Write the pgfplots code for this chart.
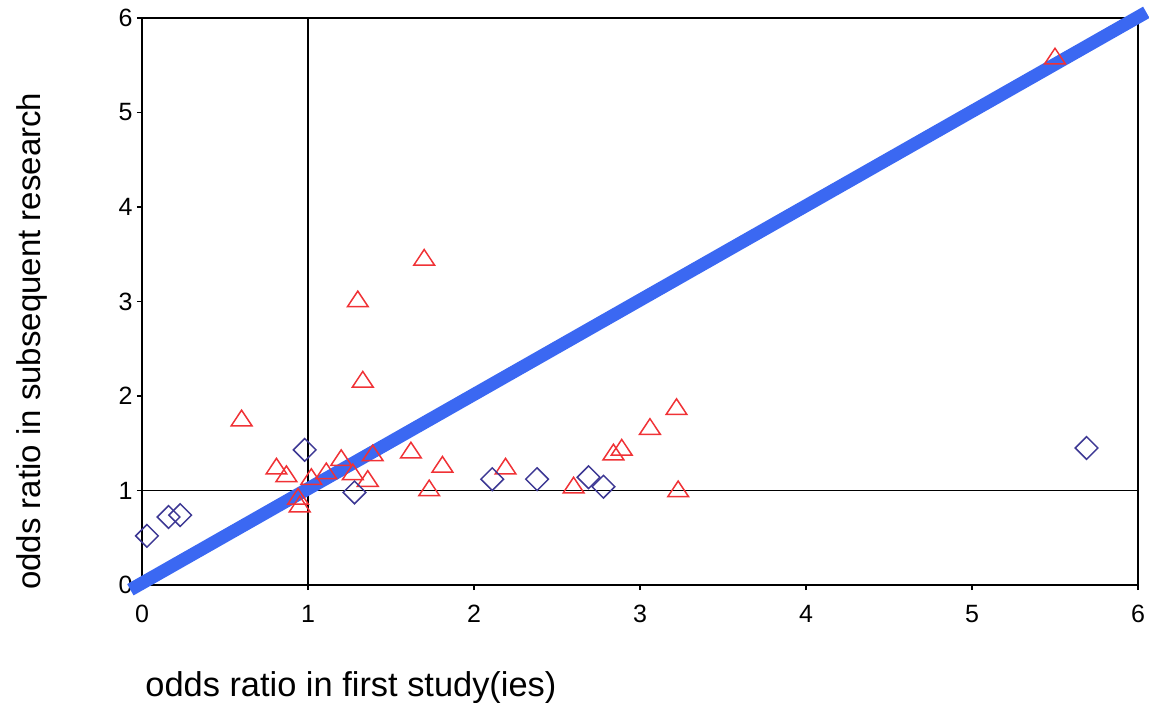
\documentclass[border=0pt]{standalone}
\usepackage{fontspec}
\setmainfont{Liberation Sans}
\usepackage{pgfplots}
\pgfplotsset{compat=1.18}
\definecolor{TRI}{HTML}{F03236}
\definecolor{DIA}{HTML}{3D3894}
\definecolor{DIAG}{HTML}{3B68F2}

\begin{document}
\begin{tikzpicture}
\begin{axis}[
  at={(0,0)}, anchor=south west,
  scale only axis,
  width=498pt, height=283.5pt,
  xmin=0, xmax=6, ymin=0, ymax=6,
  xtick={0,1,2,3,4,5,6},
  ytick={0,1,2,3,4,5,6},
  tick pos=left,
  tick align=outside,
  major tick length=2.5pt,
  axis line style={draw=black, line width=0.8pt},
  tick style={draw=black, line width=0.8pt},
  clip=false,
  /pgf/number format/assume math mode=true,
  ticklabel style={font=\fontsize{12.5}{14}\selectfont, inner sep=0pt},
  xticklabel style={anchor=north, yshift=-7.5pt},
  yticklabel style={anchor=east, xshift=-2pt},
  xlabel={odds ratio in first study(ies)},
  ylabel={odds ratio in subsequent research},
  xlabel style={at={(axis description cs:0.003,-0.1975)}, anchor=base west,
    inner sep=0pt, font=\fontsize{17.2}{19}\selectfont},
  ylabel style={at={(axis description cs:-0.1024,0.43)}, anchor=base,
    inner sep=0pt, font=\fontsize{16.5}{18}\selectfont},
]
% reference lines at odds ratio 1
\addplot[black, line width=0.7pt] coordinates {(1,0) (1,6)};
\addplot[black, line width=0.7pt] coordinates {(0,1) (6,1)};

% triangles
\addplot[only marks, mark=triangle, mark size=5.2pt,
  mark options={draw=TRI, xscale=1.15, line width=0.75pt}] coordinates {
(5.50,5.57)
(1.70,3.44)
(1.30,3.00)
(1.33,2.15)
(0.60,1.74)
(3.22,1.86)
(3.06,1.65)
(2.89,1.43)
(2.84,1.38)
(1.62,1.40)
(1.39,1.37)
(1.81,1.25)
(2.19,1.23)
(1.20,1.32)
(0.81,1.23)
(0.87,1.15)
(1.27,1.17)
(1.36,1.10)
(1.11,1.18)
(1.02,1.12)
(1.73,1.00)
(2.60,1.03)
(3.23,0.99)
(0.94,0.91)
(0.95,0.83)
};

% diamonds
\addplot[only marks, mark=square, mark size=4pt,
  mark options={draw=DIA, rotate=45, line width=0.75pt}] coordinates {
(0.03,0.52)
(0.16,0.72)
(0.23,0.74)
(0.98,1.43)
(1.28,0.98)
(2.11,1.12)
(2.38,1.12)
(2.69,1.14)
(2.78,1.04)
(5.69,1.45)
};

% diagonal
\addplot[DIAG, line width=6.5pt] coordinates {(-0.07,-0.05) (6.05,6.06)};
\end{axis}
\pgfresetboundingbox
\path (-71pt,-58.5pt) rectangle (503.5pt,292.5pt);
\end{tikzpicture}
\end{document}
